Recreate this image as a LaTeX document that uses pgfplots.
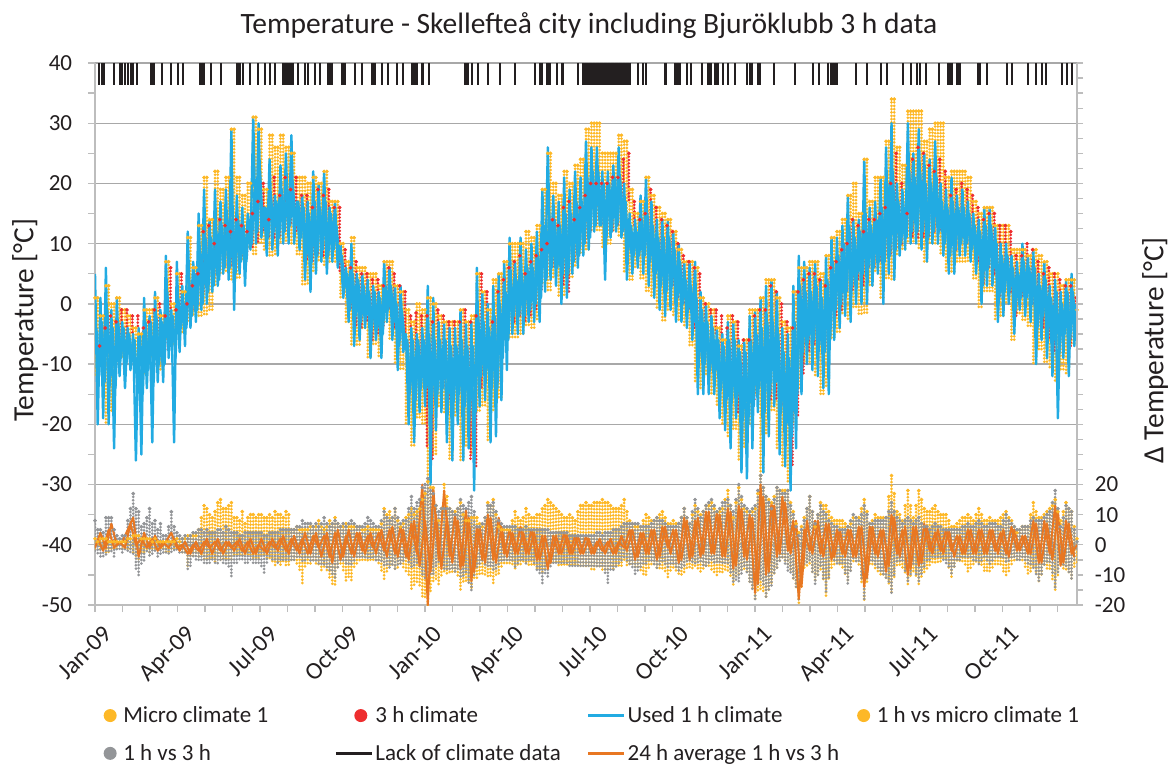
\documentclass[border=0pt]{standalone}
\usepackage{fontspec}
\setmainfont{Carlito}
\usepackage{pgfplots}
\usepackage{pgfplotstable}
\pgfplotsset{compat=1.18}

\definecolor{cY}{HTML}{FDB827}
\definecolor{cR}{HTML}{EE2E2F}
\definecolor{cB}{HTML}{22ABE2}
\definecolor{cG}{HTML}{939598}
\definecolor{cK}{HTML}{231F20}
\definecolor{cO}{HTML}{E87722}
\definecolor{cGrid}{HTML}{A8A8A8}
\definecolor{cAxis}{HTML}{BDBDBD}

\newcommand{\Lg}{\fontsize{13.8}{16}\selectfont}

\pgfplotsset{dots/.style={forget plot, only marks, mark=*, mark size=0.9pt, #1, mark options={draw=none, fill=#1},
    error bars/.cd, y dir=minus, y explicit, error mark=none,
    error bar style={#1, line width=1.8pt, line cap=round, dash pattern=on 0pt off 2pt}}}

% month, micro climate top/bottom, 3 h climate top/bottom
\pgfplotstableread{
m yh yl rh rl
0.0 1 -12 -7 -10
0.2 -2 -8 -4 -8
0.4 3 -20 -2 -6
0.6 0 -18 -3 -9
0.8 1 -10 -1 -6
1.0 -1 -9 -1 -6
1.2 -2 -8 -2 -5
1.4 -4 -9 -2 -4
1.6 -5 -8 -4 -7
1.8 -1 -12 -3 -7
2.0 -1 -9 -1 -6
2.2 1 -6 0 -5
2.4 -2 -11 -2 -8
2.6 7 -6 6 -2
2.8 0 -7 -1 -5
3.0 5 -2 5 0
3.2 2 -5 0 -3
3.4 11 -3 3 -1
3.6 6 -2 5 0
3.8 13 -2 12 2
4.0 21 -2 13 6
4.2 14 -1 10 4
4.4 22 3 14 6
4.6 19 5 13 6
4.8 21 5 12 6
5.0 29 4 14 6
5.2 21 4 13 8
5.4 18 7 12 8
5.6 20 9 15 9
5.8 31 8 17 10
6.0 29 10 20 12
6.2 19 9 14 11
6.4 28 8 21 11
6.6 26 8 18 11
6.8 28 10 21 12
7.0 26 10 19 13
7.2 25 10 21 12
7.4 21 8 18 12
7.6 21 3 18 7
7.8 20 3 16 7
8.0 21 5 19 8
8.2 20 7 18 8
8.4 22 6 19 9
8.6 17 7 16 10
8.8 17 7 16 5
9.0 10 1 9 3
9.2 7 -3 6 -1
9.4 11 -7 7 -4
9.6 6 -7 5 -4
9.8 6 -4 5 -3
10.0 5 -9 4 -6
10.2 5 -7 4 -5
10.4 3 -9 3 -4
10.6 7 -3 6 -1
10.8 7 -6 5 -4
11.0 3 -10 3 -6
11.2 2 -11 2 -6
11.4 -1 -20 -2 -7
11.6 -3 -24 -1.5 -8
11.8 0 -19 -2 -10
12.0 -1 -20 -2 -24
12.2 1 -30 -3 -26
12.4 0 -25 -1 -14
12.6 -2 -17 -2 -14
12.8 -3 -18 -3 -16
13.0 -3 -26 -3 -10
13.2 -3 -19 -3 -13
13.4 -1 -26 -1 -12
13.6 -3 -24 -3 -26
13.8 -2 -25 -2 -27
14.0 5 -18 5 -14
14.2 2 -17 2 -8
14.4 -1 -23 -3 -9
14.6 4 -18 2 -13
14.8 5 -16 4 -6
15.0 7 -5 6 -3
15.2 10 -6 7 -3
15.4 10 -6 8 -2
15.6 10 -5 5 -3
15.8 12 -4 7 -2
16.0 11 -4 8 -1
16.2 13 -3 9 2
16.4 19 3 10 6
16.6 25 2 14 6
16.8 20 4 13 7
17.0 18 1 16 3
17.2 22 1 17 2
17.4 20 4 14 7
17.6 23 6 16 9
17.8 24 8 18 10
18.0 29 9 20 12
18.2 30 12 20 13
18.4 30 12 20 13
18.6 25 9 20 12
18.8 25 10 21 12
19.0 25 12 21 13
19.2 28 11 24 12
19.4 27 5 25 17
19.6 19 4 17 13
19.8 15 6 14 9
20.0 17 4 15 10
20.2 21 2 19 11
20.4 18 1 16 7
20.6 16 -1 14 6
20.8 15 -3 13 5
21.0 14 -1 12 3
21.2 12 -2 10 1
21.4 9 -3 8 0
21.6 7 -4 7 -1
21.8 7 -7 6 -4
22.0 6 -13 5 -3
22.2 1 -14 0 -5
22.4 0 -12 -1 -3
22.6 -1 -15 -1 -5
22.8 -4 -17 -2 -9
23.0 -6 -20 -4 -12
23.2 -2 -22 -2 -10
23.4 -3 -21 -3 -18
23.6 -7 -26 -6 -14
23.8 -6 -24 -6 -16
24.0 -1 -20 -2 -16
24.2 -1 -15 -1 -8
24.4 1 -28 -1 -10
24.6 4 -22 3 -16
24.8 4 -18 2 -16
25.0 1 -24 0 -17
25.2 -3 -27 -3 -20
25.4 -4 -30 -4 -27
25.6 2 -20 2 -19
25.8 6 -14 4 -12
26.0 6 -10 5 -8
26.2 7 -10 5 -7
26.4 7 -12 4 -6
26.6 5 -15 3 -7
26.8 8 -14 6 -4
27.0 11 -6 7 -2
27.2 12 -5 9 -1
27.4 14 -2 10 2
27.6 18 -3 14 2
27.8 20 -1 13 4
28.0 15 -2 12 3
28.2 24 -2 14 6
28.4 17 3 14 6
28.6 21 5 15 7
28.8 21 1 16 8
29.0 27 4 20 8
29.2 34 4 25 9
29.4 26 8 20 10
29.6 23 9 15 12
29.8 32 10 24 11
30.0 32 10 26 11
30.2 32 9 25 11
30.4 27 7 23 11
30.6 29 10 22 12
30.8 30 10 24 12
31.0 30 8 22 13
31.2 21 5 18 11
31.4 22 5 19 9
31.6 22 7 20 11
31.8 22 7 19 10
32.0 21 7 18 10
32.2 17 4 16 7
32.4 15 -1 14 3
32.6 16 2 15 6
32.8 16 2 15 5
33.0 13 -3 13 1
33.2 13 -2 13 4
33.4 13 0 12 2
33.6 9 -6 8 -2
33.8 9 -2 8 1
34.0 9 -3 10 2
34.2 8 -4 9 0
34.4 9 -10 7 -3
34.6 8 -8 5 -4
34.8 7 -10 6 -6
35.0 5 -11 5 -8
35.2 5 -13 4 -6
35.4 3 -11 3 -4
35.6 4 -12 3 -7
35.8 4 -7 1 -5
36.0 -1 -8 -2 -5
}\tabTemp

% month, 1 h vs micro top/bottom, 1 h vs 3 h top/bottom, 24 h average
\pgfplotstableread{
m ah al gh gl o
0.0 2 -2 8 -3 -1
0.2 2 -2 5 -4 4
0.4 2 -3 9 -4 -1
0.6 1 -2 9 -3 7
0.8 1 -2 3 -2 0
1.0 1 -2 3 -3 1
1.2 2 -2 8 -2 5
1.4 3 -3 17 -4 9
1.6 3 -5 11 -11 -4
1.8 2 -3 7 -6 4
2.0 2 -3 12 -4 -1
2.2 2 -2 8 -3 3
2.4 1 -2 7 -4 -1
2.6 1 -3 3 -3 1
2.8 1 -2 11 -3 4
3.0 2 -2 4 -2 -1
3.2 2 -3 2 -3 0
3.4 3 -7 2 -9 -3
3.6 3 -4 4 -4 0
3.8 5 -4 5 -5 -2
4.0 13 -5 4 -6 1
4.2 10 -5 4 -6 -1
4.4 11 -6 4 -6 1
4.6 15 -5 5 -6 -2
4.8 12 -5 6 -7 1
5.0 14 -5 4 -11 -1
5.2 9 -4 4 -6 1
5.4 11 -4 3 -5 -2
5.6 9 -4 4 -6 1
5.8 10 -5 4 -6 -3
6.0 10 -5 4 -7 0
6.2 9 -4 3 -10 -2
6.4 10 -5 4 -4 1
6.6 11 -7 4 -5 -1
6.8 10 -7 5 -6 2
7.0 11 -7 5 -6 -2
7.2 5 -6 5 -6 2
7.4 6 -7 6 -5 -2
7.6 5 -13 8 -6 2
7.8 5 -7 7 -5 -3
8.0 6 -6 6 -6 3
8.2 8 -7 6 -7 -1
8.4 5 -8 9 -7 3
8.6 8 -11 6 -9 -4
8.8 9 -14 8 -11 4
9.0 6 -7 6 -6 -5
9.2 7 -12 6 -7 3
9.4 6 -12 8 -7 -3
9.6 6 -7 6 -5 4
9.8 5 -6 6 -5 -2
10.0 6 -6 9 -5 3
10.2 5 -5 7 -5 -1
10.4 5 -7 6 -6 4
10.6 12 -12 11 -7 -2
10.8 11 -7 8 -8 5
11.0 12 -8 12 -8 -3
11.2 6 -7 7 -7 6
11.4 9 -9 8 -5 -4
11.6 12 -15 16 -8 7
11.8 11 -13 14 -7 -3
12.0 15 -18 19 -10 20
12.2 21 -20 22 -11 -20
12.4 19 -12 17 -10 19
12.6 8 -14 11 -6 -5
12.8 20 -9 12 -8 18
13.0 12 -10 12 -8 -4
13.2 11 -9 10 -9 10
13.4 14 -15 15 -11 -8
13.6 8 -12 12 -10 12
13.8 9 -15 16 -16 -12
14.0 9 -11 6 -8 6
14.2 6 -10 7 -6 -5
14.4 14 -11 13 -8 10
14.6 15 -13 14 -9 -5
14.8 6 -10 8 -7 9
15.0 5 -7 6 -6 -3
15.2 5 -7 6 -6 5
15.4 11 -8 6 -8 -3
15.6 8 -7 5 -6 6
15.8 12 -6 6 -7 -3
16.0 9 -7 5 -6 5
16.2 10 -8 5 -9 -5
16.4 12 -10 5 -13 3
16.6 15 -8 5 -11 -8
16.8 13 -6 4 -7 3
17.0 11 -7 4 -6 -3
17.2 9 -7 4 -7 4
17.4 10 -7 3 -7 -3
17.6 8 -7 3 -7 3
17.8 13 -7 3 -7 -3
18.0 14 -8 3 -8 3
18.2 13 -9 3 -8 -3
18.4 14 -8 4 -8 1
18.6 15 -9 3 -7 -2
18.8 14 -9 4 -13 1
19.0 12 -8 5 -9 -3
19.2 12 -7 5 -7 1
19.4 15 -6 7 -5 -1
19.6 8 -7 7 -7 5
19.8 6 -8 7 -10 -5
20.0 6 -9 6 -8 4
20.2 10 -11 6 -7 -3
20.4 8 -7 7 -6 5
20.6 9 -8 9 -8 -5
20.8 11 -8 8 -6 6
21.0 7 -11 6 -8 -1
21.2 8 -8 6 -7 5
21.4 7 -10 7 -9 -6
21.6 12 -10 12 -7 9
21.8 7 -8 7 -6 -5
22.0 13 -8 15 -7 8
22.2 10 -9 9 -6 -4
22.4 13 -7 13 -7 11
22.6 14 -9 15 -5 -3
22.8 11 -11 11 -6 11
23.0 12 -10 14 -7 -4
23.2 18 -9 15 -7 12
23.4 9 -14 11 -13 -8
23.6 19 -10 20 -13 13
23.8 12 -8 13 -8 -4
24.0 11 -13 11 -13 10
24.2 12 -18 13 -18 -16
24.4 23 -15 23 -12 20
24.6 16 -18 16 -18 -10
24.8 14 -13 12 -14 14
25.0 19 -8 19 -8 -4
25.2 18 -5 17 -5 16
25.4 18 -7 18 -9 -2
25.6 11 -12 10 -12 8
25.8 4 -20 3 -19 -18
26.0 9 -8 8 -7 5
26.2 16 -7 16 -6 -2
26.4 6 -12 7 -13 8
26.6 14 -9 13 -8 -3
26.8 13 -17 10 -16 7
27.0 9 -8 7 -5 -5
27.2 8 -6 6 -7 5
27.4 8 -8 5 -7 -3
27.6 6 -12 6 -13 5
27.8 9 -6 10 -5 -4
28.0 9 -7 8 -6 6
28.2 15 -19 13 -18 -14
28.4 7 -7 7 -6 6
28.6 10 -8 8 -7 -3
28.8 9 -10 8 -9 5
29.0 9 -11 9 -11 -9
29.2 23 -16 14 -16 10
29.4 11 -7 9 -6 -3
29.6 8 -8 7 -6 5
29.8 18 -13 9 -13 -10
30.0 9 -9 7 -7 6
30.2 18 -13 9 -13 -7
30.4 12 -10 6 -8 7
30.6 11 -7 5 -5 -2
30.8 13 -6 7 -5 4
31.0 10 -6 6 -5 -2
31.2 10 -5 5 -7 5
31.4 6 -11 5 -10 -2
31.6 7 -6 5 -6 3
31.8 9 -6 6 -5 -3
32.0 10 -9 7 -5 5
32.2 8 -7 6 -6 -3
32.4 12 -6 8 -7 5
32.6 8 -9 6 -5 -3
32.8 9 -9 7 -7 5
33.0 8 -7 7 -5 -2
33.2 9 -7 6 -5 4
33.4 11 -11 10 -6 -3
33.6 8 -7 7 -5 6
33.8 4 -5 5 -5 -2
34.0 6 -6 6 -5 3
34.2 6 -10 6 -7 -3
34.4 14 -8 9 -8 8
34.6 9 -13 8 -13 -6
34.8 10 -7 9 -7 8
35.0 12 -9 11 -6 -3
35.2 15 -15 18 -15 13
35.4 8 -7 6 -6 -7
35.6 14 -9 13 -8 8
35.8 11 -12 11 -12 -3
36.0 2 -6 1 -2 0
}\tabDelta

% the same series, readings between the rows above
\pgfplotstableread{
m ah al gh gl o
.1 1 -1 5 -3 2
.3 2 -2 4 -4 -2
.5 1 -3 9 -3 5
.7 1 -2 5 -4 -1
.9 1 -1 2 -2 1
1.1 1 -1 3 -2 -1
1.3 2 -2 12 -3 7
1.5 3 -4 12 -8 0
1.7 2 -3 6 -7 2
1.9 2 -2 9 -3 -1
2.1 1 -2 7 -3 2
2.3 1 -2 5 -4 -2
2.5 1 -2 3 -3 1
2.7 1 -3 6 -3 -1
2.9 1 -2 6 -2 2
3.1 1 -2 3 -3 -2
3.3 2 -3 3 -3 1
3.5 3 -4 3 -7 -3
3.7 3 -3 4 -5 1
3.9 9 -4 5 -6 -3
4.1 12 -5 5 -7 2
4.3 9 -5 4 -5 -3
4.5 14 -4 5 -7 2
4.7 12 -5 4 -6 -3
4.9 13 -5 5 -8 1
5.1 9 -4 4 -7 -2
5.3 8 -4 3 -5 2
5.5 7 -4 4 -6 -3
5.7 10 -4 4 -5 2
5.9 9 -5 4 -7 -3
6.1 10 -4 4 -8 2
6.3 9 -5 3 -6 -3
6.5 9 -6 4 -5 2
6.7 10 -6 4 -6 -2
6.9 9 -6 5 -6 3
7.1 10 -7 5 -5 -3
7.3 5 -6 5 -6 3
7.5 5 -9 6 -5 -3
7.7 5 -8 7 -6 4
7.9 6 -7 7 -6 -3
8.1 6 -7 7 -6 4
8.3 6 -9 7 -7 -4
8.5 6 -9 7 -8 4
8.7 7 -13 7 -10 -6
8.9 7 -8 7 -8 5
9.1 6 -9 7 -6 -4
9.3 6 -11 7 -7 5
9.5 6 -8 7 -6 -4
9.7 6 -6 6 -5 4
9.9 5 -6 7 -5 -3
10.1 5 -6 8 -5 4
10.3 5 -6 6 -6 -3
10.5 7 -9 8 -6 5
10.7 10 -9 9 -7 -4
10.9 9 -7 9 -7 6
11.1 8 -8 9 -7 -4
11.3 7 -8 8 -6 5
11.5 10 -11 12 -6 -5
11.7 10 -14 12 -7 8
11.9 12 -14 15 -8 -7
12.1 17 -18 20 -11 8
12.3 19 -16 18 -10 -9
12.5 13 -12 13 -8 10
12.7 12 -11 12 -7 -8
12.9 16 -10 12 -8 9
13.1 11 -10 11 -8 -6
13.3 12 -11 12 -9 8
13.5 10 -13 13 -11 -7
13.7 8 -13 14 -13 9
13.9 9 -12 11 -11 -9
14.1 7 -10 6 -7 6
14.3 9 -10 9 -7 -6
14.5 13 -11 13 -8 9
14.7 10 -11 11 -8 -6
14.9 5 -8 7 -6 6
15.1 5 -7 6 -6 -4
15.3 8 -7 6 -6 4
15.5 9 -7 5 -7 -3
15.7 9 -6 5 -6 4
15.9 10 -7 5 -6 -3
16.1 9 -7 5 -7 4
16.3 10 -8 5 -10 -5
16.5 13 -9 5 -10 3
16.7 14 -7 4 -8 -6
16.9 12 -6 4 -6 3
17.1 10 -7 4 -6 -3
17.3 9 -7 4 -6 3
17.5 9 -7 3 -7 -3
17.7 11 -7 3 -7 3
17.9 13 -7 3 -7 -3
18.1 13 -8 3 -8 2
18.3 14 -9 3 -8 -3
18.5 14 -8 4 -8 2
18.7 14 -9 4 -10 -3
18.9 13 -8 4 -9 2
19.1 12 -7 5 -8 -3
19.3 13 -7 6 -6 3
19.5 11 -7 7 -6 -2
19.7 7 -7 7 -8 5
19.9 6 -8 7 -9 -4
20.1 8 -10 6 -7 4
20.3 9 -8 6 -6 -3
20.5 8 -7 8 -7 5
20.7 10 -8 8 -7 -4
20.9 9 -9 7 -7 6
21.1 7 -9 6 -7 -3
21.3 7 -9 6 -8 5
21.5 9 -10 9 -8 -5
21.7 9 -8 9 -6 8
21.9 10 -8 11 -6 -4
22.1 11 -8 12 -6 9
22.3 11 -8 11 -7 -3
22.5 13 -8 14 -6 11
22.7 12 -10 13 -6 -3
22.9 11 -10 12 -6 10
23.1 15 -9 14 -7 -4
23.3 13 -11 13 -10 11
23.5 14 -11 15 -12 -7
23.7 15 -9 16 -10 12
23.9 11 -10 12 -10 -5
24.1 11 -15 12 -15 9
24.3 17 -16 18 -14 -13
24.5 19 -16 19 -14 16
24.7 15 -15 14 -15 -9
24.9 16 -10 15 -10 13
25.1 18 -6 18 -6 -3
25.3 18 -6 17 -7 14
25.5 14 -9 13 -10 -3
25.7 7 -15 6 -15 8
25.9 6 -14 5 -13 -14
26.1 12 -7 12 -6 8
26.3 11 -9 11 -9 -3
26.5 10 -10 10 -10 8
26.7 13 -12 11 -12 -4
26.9 11 -12 8 -11 7
27.1 8 -7 6 -6 -4
27.3 8 -7 5 -7 5
27.5 7 -10 5 -10 -4
27.7 7 -9 8 -9 5
27.9 9 -6 9 -6 -4
28.1 12 -13 10 -12 6
28.3 11 -13 10 -12 -11
28.5 8 -7 7 -6 6
28.7 9 -9 8 -8 -4
28.9 9 -10 8 -10 5
29.1 16 -13 11 -13 -7
29.3 17 -11 11 -11 9
29.5 10 -7 8 -6 -4
29.7 13 -10 8 -9 6
29.9 13 -11 8 -10 -8
30.1 13 -11 8 -10 6
30.3 15 -11 7 -10 -6
30.5 11 -8 6 -6 6
30.7 12 -6 6 -5 -3
30.9 11 -6 6 -5 5
31.1 10 -5 5 -6 -3
31.3 8 -8 5 -8 5
31.5 6 -8 5 -8 -4
31.7 8 -6 5 -5 3
31.9 9 -7 6 -5 -3
32.1 9 -8 6 -5 5
32.3 10 -6 7 -6 -3
32.5 10 -7 7 -6 5
32.7 8 -9 6 -6 -3
32.9 8 -8 7 -6 5
33.1 8 -7 6 -5 -3
33.3 10 -9 8 -5 5
33.5 9 -9 8 -6 -4
33.7 6 -6 6 -5 5
33.9 5 -5 5 -5 -2
34.1 6 -8 6 -6 3
34.3 10 -9 8 -7 -3
34.5 11 -10 8 -10 7
34.7 9 -10 8 -10 -6
34.9 11 -8 10 -6 7
35.1 13 -12 14 -10 -5
35.3 11 -11 12 -10 11
35.5 11 -8 9 -7 -6
35.7 12 -10 12 -10 7
35.9 6 -8 5 -6 -4
}\tabDeltaB

\begin{document}
\begin{tikzpicture}
\path[use as bounding box] (0,0) rectangle (705pt,458.4pt);

% temperature axis
\begin{axis}[
    at={(57pt,95.4pt)}, anchor=south west,
    scale only axis, width=589.2pt, height=325.2pt,
    xmin=0, xmax=36, ymin=-50, ymax=40,
    axis x line*=bottom, axis y line*=left,
    axis line style={cAxis, line width=1.1pt, -},
    tick align=outside, major tick length=4.2pt, minor tick length=4.2pt,
    tick style={cAxis, line width=0.8pt},
    xtick={0,3.024,6.048,9.072,12.096,15.12,18.144,21.168,24.192,27.216,30.24,33.264},
    xticklabels={Jan-09,Apr-09,Jul-09,Oct-09,Jan-10,Apr-10,Jul-10,Oct-10,Jan-11,Apr-11,Jul-11,Oct-11},
    minor xtick={1.008,2.016,4.032,5.04,7.056,8.064,10.08,11.088,13.104,14.112,16.128,17.136,19.152,20.16,22.176,23.184,25.2,26.208,28.224,29.232,31.248,32.256,34.272,35.28},
    xticklabel style={font=\fontsize{14.6}{16}\selectfont, rotate=45, anchor=north east, cK, inner sep=2pt, yshift=-6pt},
    ytick={-50,-40,-30,-20,-10,0,10,20,30,40},
    yticklabels={-50,-40,-30,-20,-10,0,10,20,30,40},
    minor ytick={-45,-35,-25,-15,-5,5,15,25,35},
    yticklabel style={font=\Lg, cK, xshift=-6pt},
    ymajorgrids, major grid style={cGrid, line width=0.75pt},
    ylabel={Temperature [°C]},
    ylabel style={font=\fontsize{17.6}{20}\selectfont, cK, at={(axis description cs:-0.0712,0.525)}, anchor=center},
    title={Temperature - Skellefteå city including Bjuröklubb 3 h data},
    title style={font=\fontsize{17.7}{20}\selectfont, cK, at={(axis description cs:0.503,1.05)}, anchor=center},
]
% micro climate
\addplot[dots=cY] table[x=m, y=yh, y error minus expr=\thisrow{yh}-\thisrow{yl}] {\tabTemp};
\addplot[dots=cY] table[x expr=\thisrow{m}+0.1, y=yh, y error minus expr=\thisrow{yh}-\thisrow{yl}] {\tabTemp};
% 3 h climate
\addplot[dots=cR] table[x expr=\thisrow{m}+0.17, y=rh, y error minus expr=\thisrow{rh}-\thisrow{rl}] {\tabTemp};
% used 1 h climate
\addplot[cB, line width=1.45pt, line join=round, mark=none] coordinates {
(0,5)(.1,-20)(.2,1)(.3,-19)(.4,6)(.5,-20)(.6,-1)(.7,-24)(.8,1)(.9,-12)
(1,-3)(1.1,-14)(1.2,-4)(1.3,-11)(1.4,-5)(1.5,-26)(1.6,-4)(1.7,-25)(1.8,1)(1.9,-14)
(2,-2)(2.1,-23)(2.2,2)(2.3,-13)(2.4,-1)(2.5,-13)(2.6,8)(2.7,-9)(2.8,-1)(2.9,-23)
(3,7)(3.1,-8)(3.2,3)(3.3,-7)(3.4,12)(3.5,-4)(3.6,7)(3.7,-3)(3.8,15)(3.9,-1)
(4,19)(4.1,0)(4.2,14)(4.3,2)(4.4,19)(4.5,3)(4.6,17)(4.7,5)(4.8,19)(4.9,4)
(5,29)(5.1,-1)(5.2,18)(5.3,5)(5.4,16)(5.5,3)(5.6,15)(5.7,9)(5.8,31)(5.9,10)
(6,30)(6.1,11)(6.2,16)(6.3,8)(6.4,24)(6.5,9)(6.6,18)(6.7,8)(6.8,23)(6.9,10)
(7,25)(7.1,10)(7.2,28)(7.3,10)(7.4,17)(7.5,9)(7.6,18)(7.7,4)(7.8,17)(7.9,2)
(8,22)(8.1,5)(8.2,20)(8.3,7)(8.4,22)(8.5,5)(8.6,16)(8.7,7)(8.8,17)(8.9,6)
(9,10)(9.1,1)(9.2,6)(9.3,-3)(9.4,10)(9.5,-7)(9.6,5)(9.7,-6)(9.8,5)(9.9,-4)
(10,4)(10.1,-9)(10.2,3)(10.3,-6)(10.4,2)(10.5,-9)(10.6,7)(10.7,-3)(10.8,6)(10.9,-6)
(11,3)(11.1,-11)(11.2,3)(11.3,-8)(11.4,-5)(11.5,-20)(11.6,-4)(11.7,-23)(11.8,-5)(11.9,-18)
(12,-4)(12.1,-17)(12.2,3)(12.3,-30)(12.4,1)(12.5,-21)(12.6,-3)(12.7,-18)(12.8,-3)(12.9,-23)
(13,-4)(13.1,-26)(13.2,-4)(13.3,-20)(13.4,-1)(13.5,-26)(13.6,-3)(13.7,-24)(13.8,-3)(13.9,-31)
(14,6)(14.1,-17)(14.2,2)(14.3,-16)(14.4,0)(14.5,-23)(14.6,3)(14.7,-22)(14.8,5)(14.9,-16)
(15,7)(15.1,-11)(15.2,11)(15.3,-5)(15.4,7)(15.5,-5)(15.6,11)(15.7,-5)(15.8,9)(15.9,-3)
(16,10)(16.1,-3)(16.2,12)(16.3,-3)(16.4,19)(16.5,2)(16.6,26)(16.7,4)(16.8,18)(16.9,3)
(17,17)(17.1,0)(17.2,21)(17.3,1)(17.4,19)(17.5,5)(17.6,22)(17.7,6)(17.8,21)(17.9,8)
(18,27)(18.1,9)(18.2,26)(18.3,12)(18.4,26)(18.5,13)(18.6,22)(18.7,4)(18.8,22)(18.9,11)
(19,23)(19.1,12)(19.2,26)(19.3,11)(19.4,20)(19.5,4)(19.6,15)(19.7,5)(19.8,14)(19.9,6)
(20,18)(20.1,5)(20.2,21)(20.3,3)(20.4,17)(20.5,1)(20.6,14)(20.7,-1)(20.8,14)(20.9,-2)
(21,14)(21.1,-1)(21.2,12)(21.3,-3)(21.4,10)(21.5,-3)(21.6,7)(21.7,-4)(21.8,7)(21.9,-6)
(22,7)(22.1,-15)(22.2,2)(22.3,-15)(22.4,0)(22.5,-15)(22.6,-2)(22.7,-15)(22.8,-4)(22.9,-19)
(23,-5)(23.1,-21)(23.2,-3)(23.3,-24)(23.4,-3)(23.5,-19)(23.6,-6)(23.7,-28)(23.8,-6)(23.9,-29)
(24,-2)(24.1,-24)(24.2,-1)(24.3,-18)(24.4,1)(24.5,-28)(24.6,3)(24.7,-22)(24.8,4)(24.9,-17)
(25,2)(25.1,-25)(25.2,-4)(25.3,-27)(25.4,-5)(25.5,-31)(25.6,3)(25.7,-24)(25.8,8)(25.9,-15)
(26,7)(26.1,-10)(26.2,6)(26.3,-11)(26.4,7)(26.5,-12)(26.6,4)(26.7,-14)(26.8,8)(26.9,-15)
(27,11)(27.1,-6)(27.2,11)(27.3,-4)(27.4,13)(27.5,-2)(27.6,18)(27.7,-3)(27.8,14)(27.9,0)
(28,14)(28.1,0)(28.2,24)(28.3,0)(28.4,16)(28.5,3)(28.6,17)(28.7,5)(28.8,21)(28.9,0)
(29,26)(29.1,5)(29.2,30)(29.3,4)(29.4,20)(29.5,8)(29.6,19)(29.7,9)(29.8,30)(29.9,10)
(30,25)(30.1,10)(30.2,29)(30.3,9)(30.4,25)(30.5,7)(30.6,24)(30.7,10)(30.8,27)(30.9,10)
(31,20)(31.1,8)(31.2,19)(31.3,5)(31.4,21)(31.5,5)(31.6,18)(31.7,8)(31.8,19)(31.9,8)
(32,17)(32.1,7)(32.2,15)(32.3,5)(32.4,14)(32.5,0)(32.6,16)(32.7,3)(32.8,16)(32.9,3)
(33,13)(33.1,-3)(33.2,10)(33.3,-2)(33.4,10)(33.5,0)(33.6,8)(33.7,-5)(33.8,7)(33.9,-1)
(34,10)(34.1,-2)(34.2,8)(34.3,-3)(34.4,9)(34.5,-10)(34.6,5)(34.7,-6)(34.8,7)(34.9,-9)
(35,3)(35.1,-12)(35.2,4)(35.3,-19)(35.4,2)(35.5,-9)(35.6,4)(35.7,-12)(35.8,5)(35.9,-7)(35.98,0)
};
% used 1 h climate, the dense middle of each stretch
\addplot[cB, line width=1.45pt, line join=round, mark=none] coordinates {
(.05,-4)(.15,-12)(.25,-3)(.35,-13)(.45,-1)(.55,-10)(.65,-4)(.75,-14)(.85,-3)(.95,-9)
(1.05,-4)(1.15,-10)(1.25,-5)(1.35,-9)(1.45,-6)(1.55,-14)(1.65,-5)(1.75,-15)(1.85,-3)(1.95,-11)
(2.05,-3)(2.15,-13)(2.25,-2)(2.35,-10)(2.45,-3)(2.55,-10)(2.65,2)(2.75,-7)(2.85,-2)(2.95,-9)
(3.05,1)(3.15,-4)(3.25,0)(3.35,-4)(3.45,4)(3.55,-2)(3.65,5)(3.75,-1)(3.85,8)(3.95,0)
(4.05,11)(4.15,2)(4.25,11)(4.35,3)(4.45,12)(4.55,4)(4.65,13)(4.75,6)(4.85,14)(4.95,6)
(5.05,15)(5.15,5)(5.25,14)(5.35,7)(5.45,13)(5.55,7)(5.65,14)(5.75,10)(5.85,19)(5.95,12)
(6.05,22)(6.15,13)(6.25,16)(6.35,11)(6.45,18)(6.55,12)(6.65,17)(6.75,11)(6.85,19)(6.95,12)
(7.05,19)(7.15,13)(7.25,20)(7.35,13)(7.45,17)(7.55,11)(7.65,16)(7.75,8)(7.85,15)(7.95,7)
(8.05,17)(8.15,8)(8.25,16)(8.35,9)(8.45,17)(8.55,8)(8.65,15)(8.75,9)(8.85,13)(8.95,8)
(9.05,8)(9.15,3)(9.25,5)(9.35,-1)(9.45,5)(9.55,-2)(9.65,4)(9.75,-3)(9.85,3)(9.95,-2)
(10.05,2)(10.15,-4)(10.25,2)(10.35,-4)(10.45,1)(10.55,-5)(10.65,3)(10.75,-1)(10.85,3)(10.95,-3)
(11.05,0)(11.15,-7)(11.25,-1)(11.35,-6)(11.45,-6)(11.55,-14)(11.65,-6)(11.75,-16)(11.85,-6)(11.95,-14)
(12.05,-6)(12.15,-14)(12.25,-5)(12.35,-16)(12.45,-6)(12.55,-15)(12.65,-6)(12.75,-14)(12.85,-6)(12.95,-15)
(13.05,-7)(13.15,-16)(13.25,-7)(13.35,-15)(13.45,-6)(13.55,-17)(13.65,-7)(13.75,-17)(13.85,-7)(13.95,-18)
(14.05,-2)(14.15,-12)(14.25,-3)(14.35,-11)(14.45,-4)(14.55,-14)(14.65,-2)(14.75,-14)(14.85,0)(14.95,-9)
(15.05,2)(15.15,-6)(15.25,4)(15.35,-2)(15.45,4)(15.55,-2)(15.65,5)(15.75,-2)(15.85,6)(15.95,-1)
(16.05,6)(16.15,0)(16.25,8)(16.35,1)(16.45,13)(16.55,4)(16.65,15)(16.75,6)(16.85,14)(16.95,6)
(17.05,13)(17.15,5)(17.25,15)(17.35,5)(17.45,15)(17.55,7)(17.65,17)(17.75,8)(17.85,17)(17.95,10)
(18.05,21)(18.15,11)(18.25,22)(18.35,13)(18.45,22)(18.55,13)(18.65,20)(18.75,11)(18.85,20)(18.95,12)
(19.05,21)(19.15,13)(19.25,21)(19.35,12)(19.45,17)(19.55,9)(19.65,13)(19.75,8)(19.85,12)(19.95,8)
(20.05,14)(20.15,8)(20.25,15)(20.35,7)(20.45,13)(20.55,5)(20.65,11)(20.75,3)(20.85,11)(20.95,2)
(21.05,11)(21.15,3)(21.25,9)(21.35,1)(21.45,7)(21.55,0)(21.65,4)(21.75,-1)(21.85,3)(21.95,-3)
(22.05,1)(22.15,-9)(22.25,-1)(22.35,-10)(22.45,-3)(22.55,-11)(22.65,-4)(22.75,-11)(22.85,-6)(22.95,-14)
(23.05,-7)(23.15,-16)(23.25,-6)(23.35,-16)(23.45,-6)(23.55,-15)(23.65,-8)(23.75,-19)(23.85,-8)(23.95,-20)
(24.05,-6)(24.15,-17)(24.25,-5)(24.35,-14)(24.45,-4)(24.55,-18)(24.65,-3)(24.75,-15)(24.85,-3)(24.95,-13)
(25.05,-5)(25.15,-18)(25.25,-8)(25.35,-20)(25.45,-9)(25.55,-22)(25.65,-3)(25.75,-15)(25.85,3)(25.95,-8)
(26.05,2)(26.15,-6)(26.25,2)(26.35,-6)(26.45,3)(26.55,-7)(26.65,1)(26.75,-8)(26.85,4)(26.95,-6)
(27.05,7)(27.15,-1)(27.25,8)(27.35,0)(27.45,10)(27.55,2)(27.65,13)(27.75,3)(27.85,11)(27.95,5)
(28.05,12)(28.15,5)(28.25,15)(28.35,6)(28.45,13)(28.55,6)(28.65,14)(28.75,7)(28.85,16)(28.95,7)
(29.05,20)(29.15,8)(29.25,22)(29.35,9)(29.45,17)(29.55,10)(29.65,16)(29.75,11)(29.85,22)(29.95,12)
(30.05,21)(30.15,12)(30.25,22)(30.35,12)(30.45,20)(30.55,11)(30.65,20)(30.75,12)(30.85,21)(30.95,12)
(31.05,17)(31.15,10)(31.25,16)(31.35,8)(31.45,17)(31.55,9)(31.65,16)(31.75,10)(31.85,16)(31.95,10)
(32.05,15)(32.15,9)(32.25,13)(32.35,8)(32.45,12)(32.55,3)(32.65,13)(32.75,6)(32.85,13)(32.95,6)
(33.05,10)(33.15,1)(33.25,8)(33.35,2)(33.45,8)(33.55,3)(33.65,6)(33.75,-1)(33.85,5)(33.95,1)
(34.05,7)(34.15,1)(34.25,6)(34.35,0)(34.45,6)(34.55,-4)(34.65,3)(34.75,-2)(34.85,4)(34.95,-4)
(35.05,1)(35.15,-6)(35.25,2)(35.35,-8)(35.45,0)(35.55,-5)(35.65,2)(35.75,-6)(35.85,2)(35.95,-4)
};
% lack of climate data
\addplot[only marks, mark=|, mark size=6.6pt, cK, mark options={line width=1.2pt, cK}] table[row sep=\\] {
x y\\
.16 38.2\\ .24 38.2\\ .33 38.2\\ .70 38.2\\ .92 38.2\\ .99 38.2\\ 1.10 38.2\\ 1.22 38.2\\ 1.31 38.2\\ 1.38 38.2\\ 1.55 38.2\\
2.04 38.2\\ 2.11 38.2\\ 2.17 38.2\\ 2.44 38.2\\ 2.77 38.2\\ 3.03 38.2\\ 3.21 38.2\\ 3.85 38.2\\ 3.92 38.2\\ 4.0 38.2\\ 4.24 38.2\\ 4.61 38.2\\
5.19 38.2\\ 5.25 38.2\\ 5.32 38.2\\ 5.44 38.2\\ 5.68 38.2\\ 5.99 38.2\\ 6.23 38.2\\ 6.41 38.2\\ 6.6 38.2\\
6.90 38.2\\ 6.95 38.2\\ 7.0 38.2\\ 7.05 38.2\\ 7.1 38.2\\ 7.15 38.2\\ 7.2 38.2\\ 7.25 38.2\\
7.45 38.2\\ 7.7 38.2\\ 7.82 38.2\\ 8.06 38.2\\ 8.25 38.2\\ 8.55 38.2\\ 8.61 38.2\\ 8.68 38.2\\ 9.04 38.2\\ 9.1 38.2\\ 9.16 38.2\\ 9.53 38.2\\ 9.78 38.2\\
10.14 38.2\\ 10.2 38.2\\ 10.26 38.2\\ 10.51 38.2\\ 10.75 38.2\\ 11.06 38.2\\ 11.28 38.2\\ 11.61 38.2\\ 11.67 38.2\\ 11.73 38.2\\ 11.79 38.2\\ 11.97 38.2\\ 12.04 38.2\\ 12.24 38.2\\
13.56 38.2\\ 13.62 38.2\\ 13.68 38.2\\ 13.81 38.2\\ 14.05 38.2\\ 14.42 38.2\\ 14.85 38.2\\ 15.4 38.2\\ 16.12 38.2\\ 16.31 38.2\\ 16.37 38.2\\ 16.56 38.2\\ 16.62 38.2\\ 16.68 38.2\\ 16.92 38.2\\ 17.11 38.2\\ 17.17 38.2\\ 17.69 38.2\\
17.9 38.2\\ 17.95 38.2\\ 18.0 38.2\\ 18.05 38.2\\ 18.1 38.2\\ 18.15 38.2\\ 18.2 38.2\\ 18.25 38.2\\ 18.3 38.2\\ 18.35 38.2\\ 18.4 38.2\\ 18.45 38.2\\ 18.5 38.2\\ 18.55 38.2\\ 18.6 38.2\\ 18.65 38.2\\ 18.7 38.2\\ 18.75 38.2\\ 18.8 38.2\\ 18.85 38.2\\ 18.9 38.2\\ 18.95 38.2\\ 19.0 38.2\\ 19.05 38.2\\ 19.1 38.2\\ 19.15 38.2\\ 19.2 38.2\\ 19.25 38.2\\ 19.3 38.2\\ 19.35 38.2\\ 19.4 38.2\\ 19.45 38.2\\ 19.5 38.2\\ 19.55 38.2\\ 19.6 38.2\\
19.92 38.2\\ 20.1 38.2\\ 20.2 38.2\\ 20.89 38.2\\ 20.95 38.2\\ 21.26 38.2\\ 21.32 38.2\\ 21.38 38.2\\ 21.44 38.2\\ 21.69 38.2\\ 21.85 38.2\\ 22.24 38.2\\ 22.48 38.2\\ 22.54 38.2\\ 22.6 38.2\\ 22.73 38.2\\ 22.79 38.2\\ 22.85 38.2\\ 23.03 38.2\\ 23.19 38.2\\ 23.46 38.2\\ 23.89 38.2\\ 24.01 38.2\\ 24.07 38.2\\ 24.32 38.2\\ 24.38 38.2\\ 24.89 38.2\\ 25.68 38.2\\
26.31 38.2\\ 26.56 38.2\\ 26.86 38.2\\ 26.98 38.2\\ 27.06 38.2\\ 27.13 38.2\\ 27.19 38.2\\ 27.89 38.2\\ 28.3 38.2\\ 28.82 38.2\\ 29.05 38.2\\ 29.63 38.2\\ 29.92 38.2\\ 30.12 38.2\\ 30.25 38.2\\ 30.45 38.2\\ 30.94 38.2\\ 31.28 38.2\\ 31.34 38.2\\ 31.41 38.2\\ 31.59 38.2\\ 31.65 38.2\\ 31.71 38.2\\ 32.38 38.2\\ 32.44 38.2\\ 32.69 38.2\\ 33.42 38.2\\ 33.61 38.2\\ 34.19 38.2\\ 34.5 38.2\\ 34.71 38.2\\ 34.86 38.2\\ 35.44 38.2\\ 35.62 38.2\\ 35.8 38.2\\
};
\end{axis}

% difference axis, same frame
\begin{axis}[
    at={(57pt,95.4pt)}, anchor=south west,
    scale only axis, width=589.2pt, height=325.2pt,
    xmin=0, xmax=36, ymin=-20, ymax=160,
    axis x line=none, axis y line*=right,
    axis line style={cAxis, line width=1.1pt, -},
    tick align=outside, major tick length=3.6pt, minor tick length=3.6pt,
    tick style={cAxis, line width=0.8pt},
    ytick={-20,-10,0,10,20},
    yticklabels={-20,-10,0,10,20},
    minor ytick={-15,-5,5,15,25,30,35,40,45,50,55,60,65,70,75,80,85,90,95,100,105,110,115,120,125,130,135,140,145,150,155,160},
    yticklabel style={font=\Lg, cK, xshift=3.6pt},
    ylabel={Δ Temperature [°C]},
    ylabel style={font=\fontsize{17.6}{20}\selectfont, cK, at={(axis description cs:1.0795,0.47)}, anchor=center},
    legend columns=4,
    legend cell align=left,
    legend style={at={(axis description cs:0,0)}, anchor=north west, xshift=-6pt, yshift=-60.6pt,
        draw=none, fill=none, inner sep=0pt, font=\Lg, text=cK, row sep=11.6pt, column sep=0pt,
        nodes={inner xsep=1.2pt, inner ysep=0pt}},
]
\addplot[dots=cY] table[x=m, y=ah, y error minus expr=\thisrow{ah}-\thisrow{al}] {\tabDelta};
\addplot[dots=cY] table[x=m, y=ah, y error minus expr=\thisrow{ah}-\thisrow{al}] {\tabDeltaB};
\addplot[dots=cG] table[x=m, y=gh, y error minus expr=\thisrow{gh}-\thisrow{gl}] {\tabDelta};
\addplot[dots=cG] table[x=m, y=gh, y error minus expr=\thisrow{gh}-\thisrow{gl}] {\tabDeltaB};
\addplot[forget plot, cO, line width=1.2pt, line join=round, mark=none] table[x=m, y=o] {\tabDeltaB};
\addplot[forget plot, cO, line width=1.2pt, line join=round, mark=none] table[x=m, y=o] {\tabDelta};

\addlegendimage{legend image code/.code={\path[draw=none] (0pt,0pt) -- (21.6pt,0pt); \node[circle, draw=none, fill=cY, inner sep=0pt, minimum size=7.8pt] at (10.8pt,0pt) {};}}
\addlegendentry{\makebox[125.5pt][l]{Micro climate 1}}
\addlegendimage{legend image code/.code={\path[draw=none] (0pt,0pt) -- (21.6pt,0pt); \node[circle, draw=none, fill=cR, inner sep=0pt, minimum size=7.8pt] at (10.8pt,0pt) {};}}
\addlegendentry{\makebox[125.5pt][l]{3 h climate}}
\addlegendimage{legend image code/.code={\draw[cB, line width=1.8pt] (0pt,0pt) -- (21.6pt,0pt);}}
\addlegendentry{\makebox[125.5pt][l]{Used 1 h climate}}
\addlegendimage{legend image code/.code={\path[draw=none] (0pt,0pt) -- (21.6pt,0pt); \node[circle, draw=none, fill=cY, inner sep=0pt, minimum size=7.8pt] at (10.8pt,0pt) {};}}
\addlegendentry{\makebox[125.5pt][l]{1 h vs micro climate 1}}
\addlegendimage{legend image code/.code={\path[draw=none] (0pt,0pt) -- (21.6pt,0pt); \node[circle, draw=none, fill=cG, inner sep=0pt, minimum size=7.8pt] at (10.8pt,0pt) {};}}
\addlegendentry{\makebox[125.5pt][l]{1 h vs 3 h}}
\addlegendimage{legend image code/.code={\draw[cK, line width=1.8pt] (0pt,0pt) -- (21.6pt,0pt);}}
\addlegendentry{\makebox[125.5pt][l]{Lack of climate data}}
\addlegendimage{legend image code/.code={\draw[cO, line width=1.8pt] (0pt,0pt) -- (21.6pt,0pt);}}
\addlegendentry{\makebox[125.5pt][l]{24 h average 1 h vs 3 h}}
\end{axis}
\end{tikzpicture}
\end{document}
